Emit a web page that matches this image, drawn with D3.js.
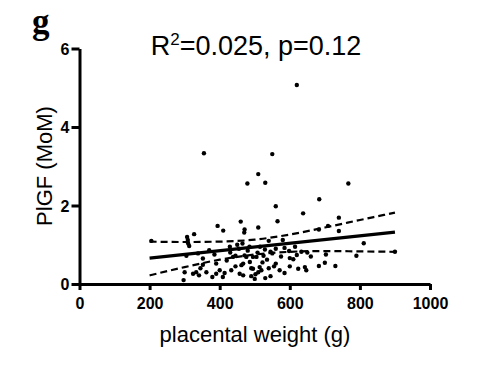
<!DOCTYPE html>
<html>
<head>
<meta charset="utf-8">
<script src="https://cdn.jsdelivr.net/npm/d3@7"></script>
<style>
  body { margin: 0; background: #fff; }
  #chart { width: 477px; height: 372px; }
</style>
</head>
<body>
<div id="chart"></div>
<script>
// placental weight (g) vs PlGF (MoM)
var weights = [205, 297, 300, 305, 307, 309, 310, 313, 324, 327, 333, 338, 341, 345, 352, 352, 355, 362, 370, 379,
  385, 390, 390, 394, 400, 409, 410, 414, 420, 429, 430, 433, 438, 445, 445, 450, 455, 457, 460, 462,
  465, 467, 467, 470, 471, 471, 476, 479, 480, 485, 486, 490, 490, 495, 495, 500, 502, 505, 508, 510,
  510, 510, 514, 515, 519, 522, 525, 529, 530, 530, 535, 540, 540, 545, 545, 550, 550, 555, 560, 560,
  560, 565, 571, 575, 580, 585, 585, 598, 600, 600, 610, 615, 620, 620, 624, 633, 638, 643, 647, 650,
  660, 683, 683, 684, 700, 703, 709, 730, 740, 740, 767, 790, 811, 900];
var plgf = [1.10, 0.10, 0.30, 0.72, 1.20, 1.12, 1.03, 0.97, 0.26, 1.27, 0.30, 0.78, 0.22, 0.40, 0.49, 0.65, 3.33, 0.30, 0.86, 0.18,
  0.75, 0.26, 0.52, 1.48, 0.35, 0.18, 1.36, 0.28, 0.60, 0.95, 0.80, 0.35, 0.69, 0.45, 0.72, 1.00, 0.90, 0.26, 1.59, 0.48,
  1.03, 0.22, 0.52, 1.31, 1.39, 0.73, 0.69, 2.56, 0.85, 0.95, 0.56, 0.40, 0.20, 0.39, 0.69, 0.13, 0.25, 0.69, 0.80, 0.30,
  1.44, 2.80, 0.43, 0.95, 0.35, 0.55, 0.72, 0.88, 2.58, 0.15, 0.62, 1.10, 0.40, 0.20, 0.82, 0.78, 3.31, 0.45, 0.52, 1.98,
  0.90, 1.60, 0.35, 0.70, 1.12, 0.28, 0.92, 0.84, 0.45, 0.66, 0.63, 0.95, 5.07, 0.74, 0.39, 0.82, 1.80, 0.43, 0.35, 0.80,
  0.70, 0.46, 1.39, 2.16, 0.54, 0.75, 1.48, 0.46, 1.35, 1.69, 2.56, 0.72, 1.04, 0.82];

// fitted line and 95% band
var fitX = [200, 900];
var fitY = [0.66, 1.32];
var bandX = [200, 300, 400, 500, 600, 700, 800, 900];
var bandUpper = [1.08, 1.07, 1.08, 1.13, 1.26, 1.44, 1.63, 1.82];
var bandLower = [0.22, 0.43, 0.62, 0.75, 0.82, 0.84, 0.83, 0.82];

var xTicks = [0, 200, 400, 600, 800, 1000];
var yTicks = [0, 2, 4, 6];

var width = 477, height = 372;
var svg = d3.select("#chart").append("svg")
    .attr("width", width)
    .attr("height", height);

var x = d3.scaleLinear().domain([0, 1000]).range([79.5, 430]);
var y = d3.scaleLinear().domain([0, 6]).range([284, 48.5]);

// axes
var xAxis = svg.append("g")
    .attr("transform", "translate(0," + y(0) + ")")
    .call(d3.axisBottom(x).tickValues(xTicks).tickFormat(d3.format("d"))
        .tickSize(6).tickSizeOuter(0).tickPadding(8));
var yAxis = svg.append("g")
    .attr("transform", "translate(" + x(0) + ",0)")
    .call(d3.axisLeft(y).tickValues(yTicks).tickFormat(d3.format("d"))
        .tickSize(8).tickSizeOuter(0).tickPadding(2));

[xAxis, yAxis].forEach(function(a) {
    a.select(".domain").attr("stroke", "#000").attr("stroke-width", 3);
    a.selectAll(".tick line").attr("stroke", "#000").attr("stroke-width", 3);
    a.selectAll(".tick text")
        .attr("fill", "#000")
        .style("font-family", "Arial, 'Liberation Sans', sans-serif")
        .style("font-weight", "bold")
        .style("font-size", "16px");
});
yAxis.selectAll(".tick text").attr("dy", "0.36em");

// confidence band
var bandLine = d3.line()
    .x(function(d) { return x(d[0]); })
    .y(function(d) { return y(d[1]); })
    .curve(d3.curveMonotoneX);

[bandUpper, bandLower].forEach(function(b) {
    svg.append("path")
        .datum(bandX.map(function(v, i) { return [v, b[i]]; }))
        .attr("d", bandLine)
        .attr("fill", "none")
        .attr("stroke", "#000")
        .attr("stroke-width", 2.2)
        .attr("stroke-dasharray", "7,4");
});

// fitted line
svg.append("path")
    .datum(fitX.map(function(v, i) { return [v, fitY[i]]; }))
    .attr("d", d3.line().x(function(d) { return x(d[0]); }).y(function(d) { return y(d[1]); }))
    .attr("fill", "none")
    .attr("stroke", "#000")
    .attr("stroke-width", 3.2);

// points
svg.append("g").selectAll("circle")
    .data(weights.map(function(w, i) { return [w, plgf[i]]; }))
    .enter().append("circle")
    .attr("cx", function(d) { return x(d[0]); })
    .attr("cy", function(d) { return y(d[1]); })
    .attr("r", 2.2)
    .attr("fill", "#000");

// labels
svg.append("text")
    .attr("x", 255)
    .attr("y", 342)
    .attr("text-anchor", "middle")
    .style("font-family", "Arial, 'Liberation Sans', sans-serif")
    .style("font-size", "22px")
    .text("placental weight (g)");

svg.append("text")
    .attr("transform", "translate(52,166) rotate(-90)")
    .attr("text-anchor", "middle")
    .style("font-family", "Arial, 'Liberation Sans', sans-serif")
    .style("font-size", "22px")
    .text("PlGF (MoM)");

var title = svg.append("text")
    .attr("x", 256)
    .attr("y", 55)
    .attr("text-anchor", "middle")
    .style("font-family", "Arial, 'Liberation Sans', sans-serif")
    .style("font-size", "27px");
title.append("tspan").text("R");
title.append("tspan").attr("dy", -10).style("font-size", "17px").text("2");
title.append("tspan").attr("dy", 10).text("=0.025, p=0.12");

svg.append("text")
    .attr("x", 32)
    .attr("y", 33)
    .style("font-family", "'Liberation Serif', 'Times New Roman', serif")
    .style("font-weight", "bold")
    .style("font-size", "35px")
    .text("g");
</script>
</body>
</html>
